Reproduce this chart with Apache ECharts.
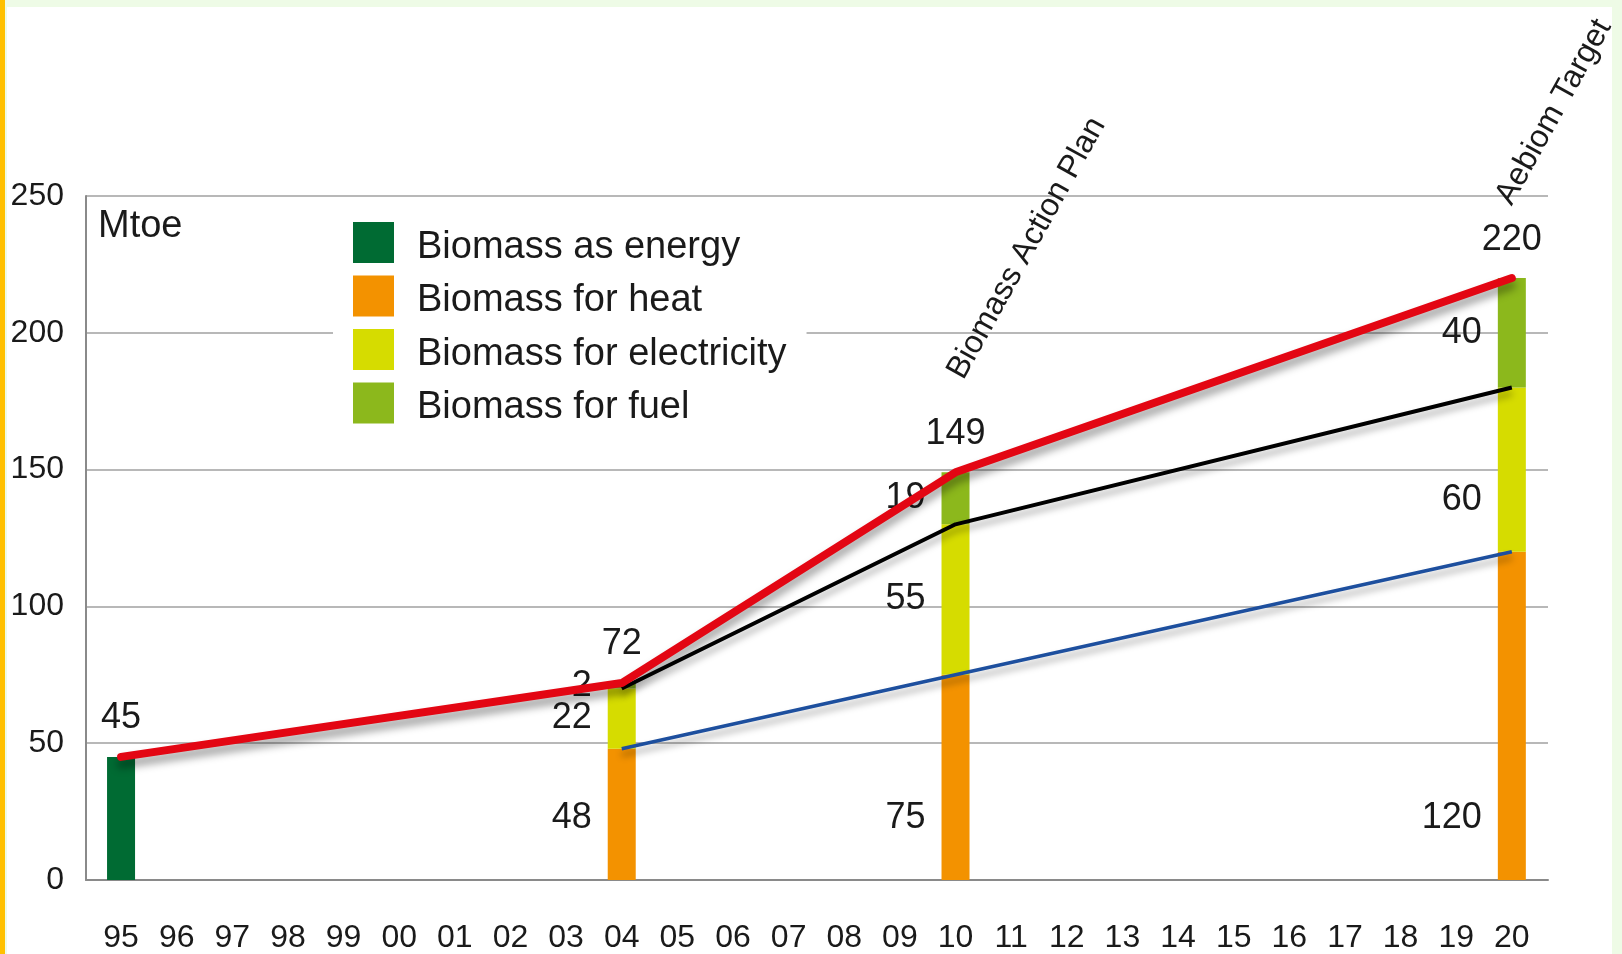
<!DOCTYPE html>
<html><head><meta charset="utf-8">
<script src="https://cdn.jsdelivr.net/npm/echarts@6/dist/echarts.min.js"></script>
<style>
html,body{margin:0;padding:0;width:1622px;height:954px;overflow:hidden;background:#eefbe6;}
#frame{position:absolute;left:7px;top:7px;width:1605px;height:947px;background:#fff;}
#strip{position:absolute;left:0;top:0;width:5px;height:954px;background:#ffc000;}
#chart{position:absolute;left:0;top:0;width:1622px;height:954px;}
</style></head><body>
<div id="frame"></div><div id="strip"></div><div id="chart"></div>
<script>
// ---- data ----
const yearLabels = ['95','96','97','98','99','00','01','02','03','04','05','06','07','08','09','10','11','12','13','14','15','16','17','18','19','20'];
const barYears = ['95','04','10','20'];
const energy = [45, null, null, null];
const heat = [null, 48, 75, 120];
const electricity = [null, 22, 55, 60];
const fuel = [null, 2, 19, 40];
const totalYears = ['95','04','10','20'];
const total = [45, 72, 149, 220];
const heatElecYears = ['04','10','20'];
const heatPlusElec = [70, 130, 180];
const heatLineYears = ['04','10','20'];
const heatLine = [48, 75, 120];
const seriesNames = ['Biomass as energy','Biomass for heat','Biomass for electricity','Biomass for fuel'];
const annotations = [{year:'10', text:'Biomass Action Plan'}, {year:'20', text:'Aebiom Target'}];

// ---- chart ----
const FONT = 'Liberation Sans';
const idx = y => yearLabels.indexOf(y);
// data stored as [value, xIndex] so the value dimension is the stacked one
const vpairs = (years, vals) => years.map((y, i) => [vals[i], idx(y)]);
const pairs = (years, vals) => years.map((y, i) => [idx(y), vals[i]]);
const chart = echarts.init(document.getElementById('chart'));

const labelFmt = p => (p.value[0] == null ? '' : String(p.value[0]));
const sideLabel = {show:true, position:'left', distance:16, fontSize:36, color:'#1a1a1a', fontFamily:FONT, formatter:labelFmt};

function barSeries(name, vals, color, label) {
  return {
    name, type:'bar', stack:'b', barWidth:28, data: vpairs(barYears, vals),
    encode:{x:1, y:0},
    itemStyle:{color}, label, z:2
  };
}

const elecData = vpairs(barYears, electricity).map((d, i) => {
  // the "60" label sits lower than segment centre
  return barYears[i] === '20' ? {value:d, label:{offset:[0, 30]}} : {value:d};
});

const option = {
  animation:false,
  title:{text:'Mtoe', left:93, top:203, textStyle:{fontSize:38, fontWeight:'normal', color:'#1a1a1a', fontFamily:FONT}},
  grid:{left:86, right:74, top:196, bottom:72, containLabel:false},
  legend:{
    data:seriesNames, orient:'vertical', left:333, top:212, itemWidth:41, itemHeight:41, itemGap:9,
    backgroundColor:'#fff', padding:[10,20,10,20], icon:'rect', selectedMode:false,
    formatter: n => '{t|' + n + '}',
    textStyle:{fontSize:38, color:'#1a1a1a', fontFamily:FONT,
      rich:{t:{fontSize:38, color:'#1a1a1a', fontFamily:FONT, padding:[10,0,0,18]}}}
  },
  xAxis:{
    type:'value', min:-0.63, max:25.65,
    axisLine:{show:true, onZero:false, lineStyle:{color:'#8a8a8a', width:2}},
    axisTick:{show:false},
    splitLine:{show:false},
    axisLabel:{customValues: yearLabels.map((y, i) => i), formatter: v => yearLabels[Math.round(v)] || '',
      fontSize:32, color:'#1a1a1a', fontFamily:FONT, margin:42}
  },
  yAxis:{
    type:'value', min:0, max:250, interval:50,
    axisLine:{show:true, onZero:false, lineStyle:{color:'#8a8a8a', width:2}},
    axisTick:{show:false},
    splitLine:{lineStyle:{color:'#b8b8b8', width:2}},
    axisLabel:{fontSize:32, color:'#1a1a1a', fontFamily:FONT, margin:22}
  },
  series:[
    barSeries(seriesNames[0], energy, '#006b33', {show:false}),
    barSeries(seriesNames[1], heat, '#f39200', {show:true, position:'insideBottomLeft', distance:0, align:'right', verticalAlign:'middle', offset:[-16,-62], fontSize:36, color:'#1a1a1a', fontFamily:FONT, formatter:labelFmt}),
    Object.assign(barSeries(seriesNames[2], electricity, '#d6dc00', sideLabel), {data: elecData}),
    barSeries(seriesNames[3], fuel, '#8cb81c', sideLabel),
    {
      name:'heatLine', type:'line', data:pairs(heatLineYears, heatLine), symbol:'none', z:5,
      lineStyle:{color:'#1d4f9e', width:3.5, shadowColor:'rgba(0,0,0,0.35)', shadowBlur:7, shadowOffsetY:6}
    },
    {
      name:'heatElecLine', type:'line', data:pairs(heatElecYears, heatPlusElec), symbol:'none', z:6,
      lineStyle:{color:'#000', width:4, join:'round', shadowColor:'rgba(0,0,0,0.35)', shadowBlur:7, shadowOffsetY:6}
    },
    {
      name:'totalLine', type:'line', data:pairs(totalYears, total), symbol:'circle', symbolSize:1, z:7,
      itemStyle:{color:'#e30613'},
      lineStyle:{color:'#e30613', width:8, join:'round', cap:'round', shadowColor:'rgba(0,0,0,0.4)', shadowBlur:8, shadowOffsetY:7},
      label:{show:true, position:'top', distance:20, fontSize:36, color:'#1a1a1a', fontFamily:FONT, formatter: p => String(p.value[1])}
    }
  ]
};
chart.setOption(option);

// rotated annotations anchored above the total points
const offs = {'10':[14,-88], '20':[6,-68]};
const g = annotations.map(a => {
  const i = totalYears.indexOf(a.year);
  const p = chart.convertToPixel({gridIndex:0}, [idx(a.year), total[i]]);
  return {
    type:'text', x:p[0] + offs[a.year][0], y:p[1] + offs[a.year][1], rotation: 61 * Math.PI / 180, z:10,
    style:{text:a.text, fontSize:32, fill:'#1a1a1a', fontFamily:FONT, textAlign:'left', textVerticalAlign:'bottom'}
  };
});
chart.setOption({graphic:g});
</script>
</body></html>
